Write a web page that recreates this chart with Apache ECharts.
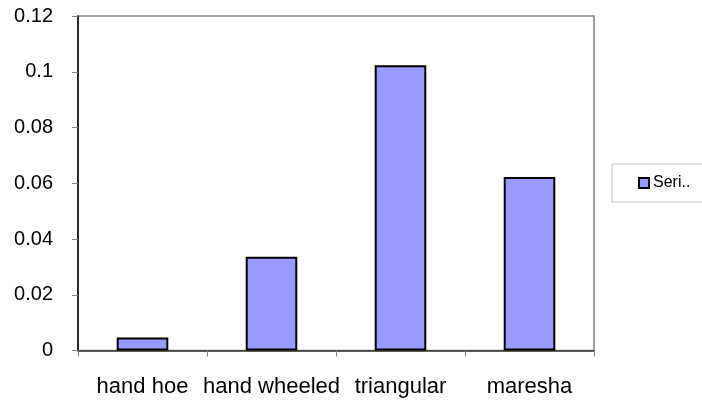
<!DOCTYPE html>
<html>
<head>
<meta charset="utf-8">
<script src="https://cdn.jsdelivr.net/npm/echarts@6/dist/echarts.min.js"></script>
<style>
  html, body { margin: 0; padding: 0; background: #fff; }
  #chart { width: 702px; height: 403px; }
</style>
</head>
<body>
<div id="chart"></div>
<script>
const categories = ['hand hoe', 'hand wheeled', 'triangular', 'maresha'];
const seriesValues = [0.0047, 0.0336, 0.1023, 0.0622];
const seriesName = 'Series1';
const legendLabel = 'Seri..';

const font = '"Liberation Sans", Arial, sans-serif';
const chart = echarts.init(document.getElementById('chart'));

chart.setOption({
  animation: false,
  backgroundColor: '#ffffff',
  grid: {
    left: 78, top: 16, right: 108, bottom: 52.5,
    show: true, borderColor: '#808080', borderWidth: 1.5
  },
  legend: {
    left: 612, top: 164,
    padding: [11, 60, 11, 26],
    borderColor: '#c0c0c0', borderWidth: 1,
    itemWidth: 10, itemHeight: 10, itemGap: 4,
    icon: 'rect',
    formatter: () => legendLabel,
    textStyle: { fontFamily: font, fontSize: 16, color: '#000', padding: [0, 0, 0, -1] },
    data: [seriesName]
  },
  xAxis: {
    type: 'category',
    data: categories,
    axisLine: { lineStyle: { color: '#333', width: 1.5 } },
    axisTick: { show: true, length: 6, alignWithLabel: false, lineStyle: { color: '#808080' } },
    axisLabel: { fontFamily: font, fontSize: 22, color: '#000', margin: 25, interval: 0 },
    splitLine: { show: false }
  },
  yAxis: {
    type: 'value',
    min: 0, max: 0.12, interval: 0.02,
    axisLine: { show: true, lineStyle: { color: '#000', width: 1.5 } },
    axisTick: { show: true, length: 6, lineStyle: { color: '#808080' } },
    axisLabel: { fontFamily: font, fontSize: 20, color: '#000', margin: 25,
      formatter: v => String(+v.toFixed(2)) },
    splitLine: { show: false }
  },
  series: [{
    name: seriesName,
    type: 'bar',
    data: seriesValues,
    barCategoryGap: '60%',
    itemStyle: { color: '#9999ff', borderColor: '#000', borderWidth: 2 }
  }]
});
</script>
</body>
</html>
